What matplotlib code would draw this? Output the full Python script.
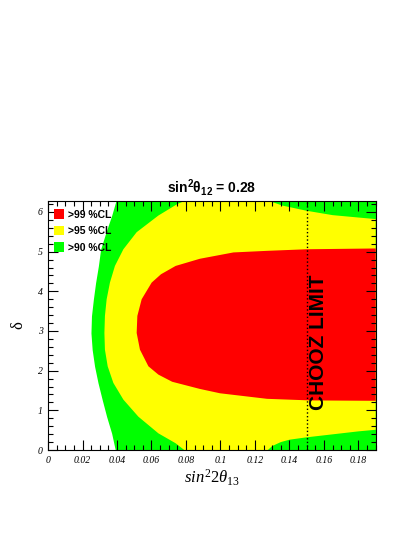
import numpy as np
import matplotlib
matplotlib.use("Agg")
import matplotlib.pyplot as plt
from matplotlib.patches import Patch
from matplotlib.ticker import MultipleLocator, FuncFormatter

plt.rcParams['mathtext.fontset'] = 'custom'
plt.rcParams['mathtext.rm'] = 'Liberation Serif'
plt.rcParams['mathtext.it'] = 'Liberation Serif:italic'
plt.rcParams['mathtext.bf'] = 'Liberation Sans:bold'

# contour boundaries (x = sin^2 2theta13, y = delta)
green_left_delta = [0, 0.42, 0.84, 1.27, 1.69, 2.11, 2.53, 2.95, 3.38, 3.80, 4.22, 4.64, 5.06, 5.49, 5.91, 2 * np.pi]
green_left_x = [0.0390, 0.0369, 0.0340, 0.0314, 0.0290, 0.0270, 0.0256, 0.0249, 0.0252, 0.0263, 0.0276, 0.0292, 0.0305, 0.0336, 0.0369, 0.0394]

yellow_left_delta = [0, 0.17, 0.42, 0.84, 1.27, 1.69, 2.11, 2.53, 2.95, 3.38, 3.80, 4.22, 4.64, 5.06, 5.49, 5.91, 6.2, 2 * np.pi]
yellow_left_x = [0.0790, 0.0740, 0.0640, 0.0524, 0.0437, 0.0379, 0.0346, 0.0330, 0.0327, 0.0330, 0.0340, 0.0359, 0.0388, 0.0437, 0.0514, 0.0640, 0.0750, 0.0795]

yellow_top_x = [0.1277, 0.130, 0.136, 0.150, 0.165, 0.19]
yellow_top_delta = [2 * np.pi, 6.25, 6.16, 6.03, 5.92, 5.82]

yellow_bot_x = [0.1275, 0.130, 0.135, 0.140, 0.150, 0.160, 0.170, 0.180, 0.19]
yellow_bot_delta = [0, 0.10, 0.20, 0.26, 0.32, 0.37, 0.42, 0.47, 0.51]

red_x = [0.19, 0.15, 0.127, 0.1075, 0.088, 0.074, 0.0655, 0.0601, 0.0543, 0.0518, 0.0514,
         0.0533, 0.0582, 0.0640, 0.0720, 0.088, 0.0997, 0.127, 0.152, 0.19]
red_delta = [5.08, 5.06, 5.02, 4.98, 4.82, 4.64, 4.43, 4.22, 3.80, 3.38, 2.95,
             2.53, 2.11, 1.90, 1.72, 1.54, 1.43, 1.29, 1.25, 1.24]

chooz_limit = 0.15
xmax = 0.19
labels = [">99 %CL", ">95 %CL", ">90 %CL"]
colors = ["#ff0000", "#ffff00", "#00ff00"]

fig = plt.figure(figsize=(4.15, 5.37), dpi=100)
ax = fig.add_axes([0.1157, 0.162, 0.7896, 0.4642])

# >90% region
ax.fill_betweenx(green_left_delta, green_left_x, xmax, color=colors[2], lw=0)
# >95% region
yx = np.concatenate([yellow_left_x, yellow_top_x, yellow_bot_x[::-1]])
yd = np.concatenate([yellow_left_delta, yellow_top_delta, yellow_bot_delta[::-1]])
ax.fill(yx, yd, color=colors[1], lw=0)
# >99% region
ax.fill(red_x, red_delta, color=colors[0], lw=0)

ax.axvline(chooz_limit, color='black', ls=':', lw=1)
ax.text(0.1568, 2.72, "CHOOZ LIMIT", rotation=90, ha='center', va='center',
        fontsize=15, fontweight='bold', family='Liberation Sans')

ax.set_xlim(0, xmax)
ax.set_ylim(0, 2 * np.pi)
ax.xaxis.set_major_locator(MultipleLocator(0.02))
ax.xaxis.set_minor_locator(MultipleLocator(0.005))
ax.yaxis.set_major_locator(MultipleLocator(1))
ax.yaxis.set_minor_locator(MultipleLocator(0.2))
ax.xaxis.set_major_formatter(FuncFormatter(lambda v, p: "%g" % round(v, 3)))
ax.tick_params(which='both', direction='in', top=True, right=True, width=0.8)
ax.tick_params(which='major', length=7, pad=4)
ax.tick_params(which='minor', length=3.5)
for lab in ax.get_xticklabels() + ax.get_yticklabels():
    lab.set_family('Liberation Serif')
    lab.set_style('italic')
    lab.set_fontsize(7)

ax.set_xlabel(r"$sin^{2}2\theta_{13}$", fontsize=12, labelpad=2)
ax.set_ylabel("δ", fontsize=12, family='Liberation Serif', labelpad=8)
ax.set_title(r"$\mathbf{sin^{2}\theta_{12}}$ = 0.28", fontsize=10, fontweight='bold',
             family='Liberation Sans', pad=6)

handles = [Patch(facecolor=c, edgecolor='none') for c in colors]
leg = ax.legend(handles, labels, loc='upper left', bbox_to_anchor=(0.0, 0.99),
                frameon=False, handlelength=0.9, handleheight=1.0, handletextpad=0.4,
                labelspacing=0.6, borderaxespad=0.2,
                prop={'family': 'Liberation Sans', 'weight': 'bold', 'size': 7.5})

fig.savefig("out.png", dpi=100)
